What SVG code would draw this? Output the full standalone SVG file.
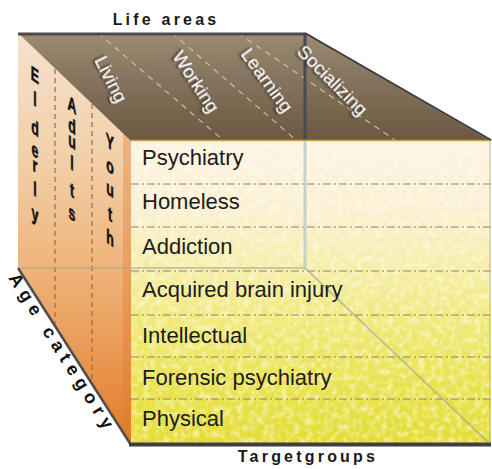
<svg xmlns="http://www.w3.org/2000/svg" width="492" height="469" viewBox="0 0 492 469">
<defs>
<linearGradient id="gTop" gradientUnits="userSpaceOnUse" x1="0" y1="33" x2="0" y2="141">
<stop offset="0" stop-color="#9a8b72"/><stop offset="0.5" stop-color="#82705a"/><stop offset="1" stop-color="#6b5840"/>
</linearGradient>
<linearGradient id="gLeft" gradientUnits="userSpaceOnUse" x1="0" y1="33" x2="0" y2="445">
<stop offset="0" stop-color="#f6e2cc"/><stop offset="0.3" stop-color="#f3d0aa"/><stop offset="0.55" stop-color="#efb67e"/><stop offset="0.8" stop-color="#e99650"/><stop offset="1" stop-color="#e07a24"/>
</linearGradient>
<linearGradient id="gFront" gradientUnits="userSpaceOnUse" x1="0" y1="141" x2="0" y2="443">
<stop offset="0" stop-color="#fdf4e4"/><stop offset="0.22" stop-color="#fbf0d4"/><stop offset="0.42" stop-color="#f6eda8"/><stop offset="0.6" stop-color="#f0e97a"/><stop offset="0.8" stop-color="#e9e350"/><stop offset="1" stop-color="#e3dd36"/>
</linearGradient>
<filter id="mottle" x="0" y="0" width="1" height="1">
<feTurbulence type="fractalNoise" baseFrequency="0.16" numOctaves="2" seed="4"/>
<feColorMatrix type="matrix" values="0 0 0 0 1  0 0 0 0 1  0 0 0 0 0.85  2.8 0 0 0 -1.15"/>
</filter>
<filter id="shadow" x="-20%" y="-20%" width="140%" height="140%">
<feDropShadow dx="-1.3" dy="1.6" stdDeviation="0.8" flood-color="#1a140c" flood-opacity="0.9"/>
</filter>
<style>
.title{font-family:"Liberation Sans",Arial,sans-serif;font-weight:bold;font-size:16px;fill:#1a1a1a;letter-spacing:3.2px}
.row{font-family:"Liberation Sans",Arial,sans-serif;font-size:22px;fill:#1c1c1c}
.area{font-family:"Liberation Sans",Arial,sans-serif;font-size:19px;fill:#ffffff;filter:url(#shadow)}
.age{font-family:"Liberation Sans",Arial,sans-serif;font-weight:bold;font-size:20px;fill:#111;text-anchor:middle;stroke:#111;stroke-width:0.6px}
.agecat{font-family:"Liberation Sans",Arial,sans-serif;font-weight:bold;font-size:18px;fill:#111;letter-spacing:6px}
.rowline{stroke:#8f8468;stroke-width:1;stroke-dasharray:8 3 2 3;fill:none}
.colline{stroke:#9a6a45;stroke-width:1.2;stroke-dasharray:5 4;fill:none}
.topline{stroke:#d9d0c0;stroke-width:1.2;stroke-dasharray:6 5;fill:none;opacity:0.8}
</style>
</defs>

<!-- faces -->
<g id="left-face">
<polygon points="18,33 131,141 131,445 18,268" fill="url(#gLeft)"/>
<polygon points="123,133 131,141 131,445 123,432" fill="#e0782a" opacity="0.35"/>
</g>
<g id="top-face">
<polygon points="18,33 305,33 491,141 131,141" fill="url(#gTop)"/>
</g>
<g id="front-face">
<rect x="131" y="141" width="360" height="302" fill="url(#gFront)"/>
<rect x="131" y="141" width="360" height="302" fill="#fff" filter="url(#mottle)" opacity="0.5"/>
</g>

<!-- connectors: edges and divider lines -->
<g id="connectors">
<line class="topline" x1="98" y1="33" x2="223" y2="140"/>
<line class="topline" x1="172" y1="33" x2="296" y2="140"/>
<line class="topline" x1="238" y1="33" x2="395" y2="140"/>
<line class="colline" x1="55" y1="69" x2="55" y2="326"/>
<line class="colline" x1="92" y1="104" x2="92" y2="384"/>
<line class="rowline" x1="131" y1="184" x2="491" y2="184"/>
<line class="rowline" x1="131" y1="227" x2="491" y2="227"/>
<line class="rowline" x1="131" y1="271" x2="491" y2="271"/>
<line class="rowline" x1="131" y1="315" x2="491" y2="315"/>
<line class="rowline" x1="131" y1="357" x2="491" y2="357"/>
<line class="rowline" x1="131" y1="399" x2="491" y2="399"/>
<!-- hidden back edges -->
<line x1="18" y1="268" x2="305" y2="268" stroke="#a8a890" stroke-width="2" opacity="0.55"/>
<line x1="305" y1="141" x2="305" y2="268" stroke="#bfcac8" stroke-width="3" opacity="0.85"/>
<line x1="305" y1="268" x2="491" y2="445" stroke="#a3a98a" stroke-width="2" opacity="0.6"/>
<line x1="305" y1="33" x2="305" y2="141" stroke="#4a4a52" stroke-width="3"/>
<!-- visible edges -->
<line x1="131" y1="140.5" x2="491" y2="140.5" stroke="#d49a50" stroke-width="1.5"/>
<line x1="18" y1="34" x2="305" y2="34" stroke="#4b4b4b" stroke-width="3"/>
<line x1="305" y1="33" x2="491" y2="140" stroke="#3a3a3a" stroke-width="2"/>
<line x1="18" y1="268" x2="131" y2="445" stroke="#4e4e4e" stroke-width="2.5"/>
<line x1="129" y1="444.5" x2="491" y2="444.5" stroke="#3e3e44" stroke-width="4"/>
<line x1="490" y1="141" x2="490" y2="443" stroke="#b8b49a" stroke-width="1.5" opacity="0.6"/>
</g>

<!-- titles -->
<g id="life-areas"><text class="title" x="166" y="25" text-anchor="middle">Life areas</text></g>
<g id="targetgroups"><text class="title" x="308" y="462" text-anchor="middle">Targetgroups</text></g>
<g id="age-category"><text class="agecat" transform="translate(8,278) rotate(57.7)">Age category</text></g>

<!-- life areas labels on top face -->
<g id="living"><text class="area" text-anchor="middle" dominant-baseline="central" transform="translate(111.5,79) rotate(63)">Living</text></g>
<g id="working"><text class="area" text-anchor="middle" dominant-baseline="central" transform="translate(196.5,81.5) rotate(57)">Working</text></g>
<g id="learning"><text class="area" text-anchor="middle" dominant-baseline="central" transform="translate(267.5,80) rotate(54)">Learning</text></g>
<g id="socializing"><text class="area" text-anchor="middle" dominant-baseline="central" transform="translate(333,80) rotate(45)">Socializing</text></g>

<!-- age columns -->
<g id="elderly">
<text class="age" transform="translate(35,82) skewY(35) scale(0.62,1)">E</text>
<text class="age" transform="translate(35,106) skewY(35) scale(0.62,1)">l</text>
<text class="age" transform="translate(35,135) skewY(35) scale(0.62,1)">d</text>
<text class="age" transform="translate(35,157) skewY(35) scale(0.62,1)">e</text>
<text class="age" transform="translate(35,172) skewY(35) scale(0.62,1)">r</text>
<text class="age" transform="translate(35,196) skewY(35) scale(0.62,1)">l</text>
<text class="age" transform="translate(35,221) skewY(35) scale(0.62,1)">y</text>
</g>
<g id="adults">
<text class="age" transform="translate(72,112) skewY(35) scale(0.62,1)">A</text>
<text class="age" transform="translate(72,133) skewY(35) scale(0.62,1)">d</text>
<text class="age" transform="translate(72,148) skewY(35) scale(0.62,1)">u</text>
<text class="age" transform="translate(72,170) skewY(35) scale(0.62,1)">l</text>
<text class="age" transform="translate(72,197) skewY(35) scale(0.62,1)">t</text>
<text class="age" transform="translate(72,220) skewY(35) scale(0.62,1)">s</text>
</g>
<g id="youth">
<text class="age" transform="translate(110,149) skewY(35) scale(0.62,1)">Y</text>
<text class="age" transform="translate(110,173) skewY(35) scale(0.62,1)">o</text>
<text class="age" transform="translate(110,196) skewY(35) scale(0.62,1)">u</text>
<text class="age" transform="translate(110,221) skewY(35) scale(0.62,1)">t</text>
<text class="age" transform="translate(110,245) skewY(35) scale(0.62,1)">h</text>
</g>

<!-- target groups -->
<g id="psychiatry"><text class="row" x="142" y="165">Psychiatry</text></g>
<g id="homeless"><text class="row" x="142" y="209">Homeless</text></g>
<g id="addiction"><text class="row" x="142" y="254">Addiction</text></g>
<g id="acquired-brain-injury"><text class="row" x="142" y="297">Acquired brain injury</text></g>
<g id="intellectual"><text class="row" x="142" y="343">Intellectual</text></g>
<g id="forensic-psychiatry"><text class="row" x="142" y="385">Forensic psychiatry</text></g>
<g id="physical"><text class="row" x="142" y="426">Physical</text></g>
</svg>
